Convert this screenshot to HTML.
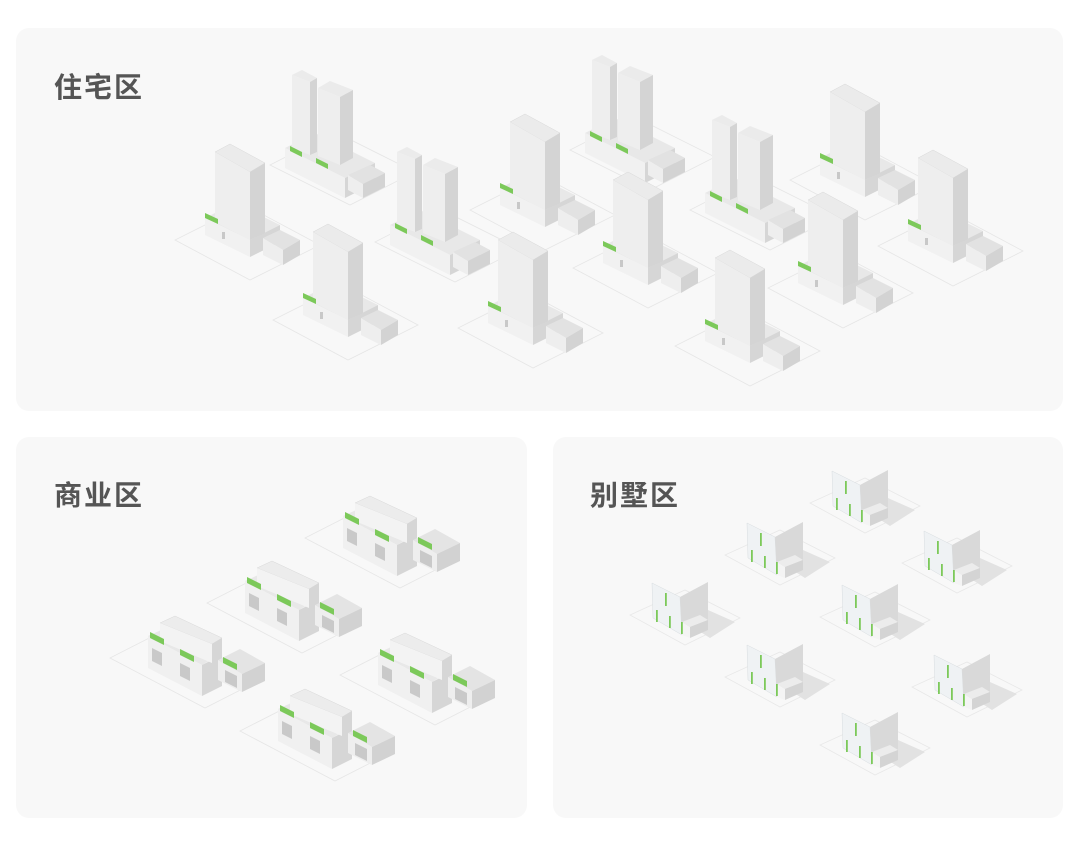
<!DOCTYPE html>
<html><head><meta charset="utf-8"><style>
html,body{margin:0;padding:0;background:#fff;width:1080px;height:847px;overflow:hidden}
.p{position:absolute;background:#f8f8f8;border-radius:13px}
.t{position:absolute;font-family:"Liberation Sans","Noto Sans CJK SC",sans-serif;font-size:28px;color:#555;font-weight:700;letter-spacing:2px}
svg{position:absolute;left:0;top:0}
</style></head><body>
<div class="p" style="left:16px;top:28px;width:1047px;height:383px"></div>
<div class="p" style="left:16px;top:437px;width:511px;height:381px"></div>
<div class="p" style="left:553px;top:437px;width:510px;height:381px"></div>
<div class="t" style="left:54px;top:66px">住宅区</div>
<div class="t" style="left:54px;top:474px">商业区</div>
<div class="t" style="left:590px;top:474px">别墅区</div>
<svg width="1080" height="847" viewBox="0 0 1080 847">
<defs>
<g id="tw">
 <polygon points="-5,100 70,140 140,105 65,65" fill="none" stroke="#e6e6e6" stroke-width="0.8"/>
 <polygon points="25,78 55,63 100,85 70,100" fill="#e8e8e8"/>
 <polygon points="25,78 70,100 70,117 25,95" fill="#f1f1f1"/>
 <polygon points="70,100 100,85 100,102 70,117" fill="#d6d6d6"/>
 <polygon points="83,98 100,90 120,100 103,110" fill="#e2e2e2"/>
 <polygon points="83,98 103,110 103,125 83,115" fill="#eeeeee"/>
 <polygon points="103,110 120,100 120,115 103,125" fill="#d3d3d3"/>
 <rect x="42" y="92" width="3" height="7" fill="#c8c8c8"/>
 <polygon points="35,12 50,4 85,23 70,32" fill="#ebebeb" stroke="#d8d8d8" stroke-width="0.5"/>
 <polygon points="35,12 70,32 70,100 35,82" fill="#eeeeee"/>
 <polygon points="70,32 85,23 85,93 70,100" fill="#d4d4d4"/>
 <polygon points="25,73 38,79 38,84 25,78" fill="#7cc95a"/>
</g>
<g id="dt">
 <polygon points="-10,105 70,145 135,112 55,72" fill="none" stroke="#e6e6e6" stroke-width="0.8"/>
 <polygon points="5,88 35,73 95,103 65,118" fill="#e8e8e8"/>
 <polygon points="5,88 65,118 65,138 5,108" fill="#f1f1f1"/>
 <polygon points="65,118 95,103 95,123 65,138" fill="#d6d6d6"/>
 <polygon points="68,115 90,105 105,113 83,124" fill="#e2e2e2"/>
 <polygon points="68,115 83,124 83,138 68,130" fill="#eeeeee"/>
 <polygon points="83,124 105,113 105,127 83,138" fill="#d3d3d3"/>
 <polygon points="12,15 22,10 37,18 30,22" fill="#ebebeb"/>
 <polygon points="12,15 30,22 30,95 12,88" fill="#eeeeee"/>
 <polygon points="30,22 37,18 37,92 30,95" fill="#d4d4d4"/>
 <polygon points="38,28 50,21 73,30 60,37" fill="#ebebeb"/>
 <polygon points="38,28 60,37 60,105 38,96" fill="#eeeeee"/>
 <polygon points="60,37 73,30 73,98 60,105" fill="#d4d4d4"/>
 <polygon points="10,86 22,92 22,97 10,91" fill="#7cc95a"/>
 <polygon points="36,98 48,104 48,109 36,103" fill="#7cc95a"/>
</g>
<g id="cm">
 <polygon points="-30,50 65,100 120,72 25,22" fill="none" stroke="#e6e6e6" stroke-width="0.8"/>
 <polygon points="8,28 30,18 82,45 62,57" fill="#e8e8e8"/>
 <polygon points="8,28 62,57 62,88 8,60" fill="#f0f0f0"/>
 <polygon points="62,57 82,47 82,78 62,88" fill="#d6d6d6"/>
 <polygon points="78,52 100,41 125,55 102,66" fill="#e4e4e4"/>
 <polygon points="78,52 102,66 102,84 78,72" fill="#eeeeee"/>
 <polygon points="102,66 125,55 125,73 102,84" fill="#d2d2d2"/>
 <polygon points="20,15 35,8 82,30 72,36" fill="#ececec" stroke="#d8d8d8" stroke-width="0.5"/>
 <polygon points="20,15 72,36 72,55 20,33" fill="#f3f3f3"/>
 <polygon points="72,36 82,30 82,50 72,55" fill="#d6d6d6"/>
 <polygon points="12,40 22,45 22,58 12,53" fill="#c9c9c9"/>
 <polygon points="40,55 50,60 50,73 40,68" fill="#c9c9c9"/>
 <polygon points="85,62 97,68 97,80 85,74" fill="#c9c9c9"/>
 <polygon points="10,24 24,31 24,37 10,30" fill="#7cc95a"/>
 <polygon points="40,41 54,48 54,54 40,47" fill="#7cc95a"/>
 <polygon points="83,49 97,56 97,62 83,55" fill="#7cc95a"/>
</g>
<g id="vl">
 <polygon points="-10,45 45,75 100,48 45,20" fill="none" stroke="#e8e8e8" stroke-width="0.8"/>
 <polygon points="42,50 68,40 95,52 70,68" fill="#e2e2e2"/>
 <polygon points="12,13 40,27 42,65 13,48" fill="#eff2f4" stroke="#d8dde0" stroke-width="0.5"/>
 <polygon points="40,27 68,12 68,50 42,65" fill="#d9d9d9"/>
 <polygon points="42,52 60,45 68,50 50,57" fill="#ececec"/>
 <polygon points="42,52 50,57 50,68 42,65" fill="#f4f4f4"/>
 <polygon points="50,57 68,50 68,60 50,68" fill="#d4d4d4"/>
 <rect x="25" y="23" width="1.8" height="13" fill="#7cc95a"/>
 <rect x="16" y="40" width="1.8" height="12" fill="#7cc95a"/>
 <rect x="29" y="46" width="1.8" height="12" fill="#7cc95a"/>
 <rect x="41" y="52" width="1.8" height="12" fill="#7cc95a"/>
</g>
</defs>
<use href="#dt" x="280" y="60"/>
<use href="#dt" x="580" y="45"/>
<use href="#tw" x="795" y="80"/>
<use href="#tw" x="180" y="140"/>
<use href="#dt" x="385" y="137"/>
<use href="#tw" x="475" y="110"/>
<use href="#dt" x="700" y="105"/>
<use href="#tw" x="883" y="146"/>
<use href="#tw" x="578" y="168"/>
<use href="#tw" x="278" y="220"/>
<use href="#tw" x="773" y="188"/>
<use href="#tw" x="463" y="228"/>
<use href="#tw" x="680" y="246"/>

<use href="#cm" x="335" y="488"/>
<use href="#cm" x="237" y="553"/>
<use href="#cm" x="140" y="608"/>
<use href="#cm" x="370" y="625"/>
<use href="#cm" x="270" y="681"/>

<use href="#vl" x="820" y="458"/>
<use href="#vl" x="735" y="510"/>
<use href="#vl" x="912" y="518"/>
<use href="#vl" x="640" y="570"/>
<use href="#vl" x="830" y="572"/>
<use href="#vl" x="735" y="632"/>
<use href="#vl" x="922" y="642"/>
<use href="#vl" x="830" y="700"/>
</svg>
</body></html>
